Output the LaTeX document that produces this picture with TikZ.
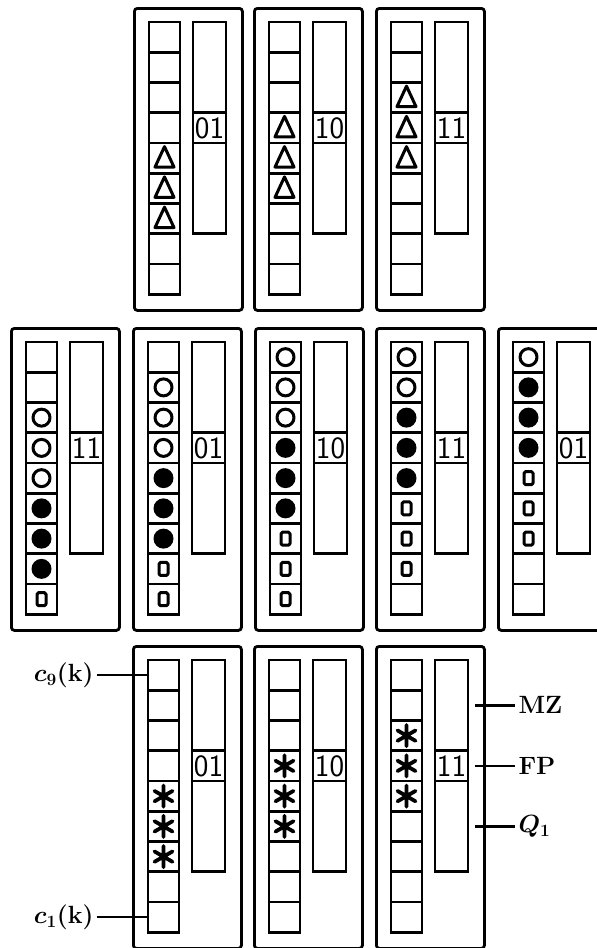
\documentclass[tikz,border=0pt]{standalone}
\usetikzlibrary{calc}
\tikzset{
  frame/.style={draw, line width=2.8pt, rounded corners=3pt, minimum width=108pt, minimum height=302pt, inner sep=0pt},
  cellbox/.style={draw, line width=2.7pt, minimum width=31pt, minimum height=30.25pt, inner sep=0pt},
  barbox/.style={draw, line width=2.7pt, minimum width=33pt, minimum height=90.75pt, inner sep=0pt},
  labcell/.style={draw, line width=2.7pt, minimum width=33pt, minimum height=30.25pt, inner sep=0pt, font=\fontsize{31}{31}\selectfont\sffamily},
  symline/.style={line width=3pt, line join=round},
  lab/.style={inner sep=3pt, font=\fontsize{25}{25}\selectfont\bfseries\boldmath},
  leader/.style={line width=2.5pt}
}
\newcommand\symz[1]{}
\newcommand\symt[1]{\draw[symline, shift={(#1.center)}] (0,-11.5) -- (-9.5,9) -- (9.5,9) -- cycle;}
\newcommand\symo[1]{\draw[symline, shift={(#1.center)}] (0,0) circle (8.5pt);}
\newcommand\symf[1]{\fill[shift={(#1.center)}] (0,0) circle (10pt);}
\newcommand\syms[1]{\draw[symline, shift={(#1.center)}, rounded corners=1.5pt] (-4.5,-6.5) rectangle (4.5,6.5);}
\newcommand\syma[1]{\draw[line width=3.8pt, line cap=round, shift={(#1.center)}] (0,-10.5) -- (0,10.5) (-9,-5.2) -- (9,5.2) (-9,5.2) -- (9,-5.2);}
\newcommand\mypanel[5]{%
  \node[frame, anchor=north west] (#1-f) at (#2,#3) {};
  \foreach \s [count=\i] in {#5} {
    \node[cellbox] (#1-c-\i) at ({#2+31.5},{#3+15+(\i-0.5)*30.25}) {};
    \csname sym\s\endcsname{#1-c-\i}
  }
  \node[barbox] (#1-u) at ({#2+76.5},{#3+15+45.375}) {};
  \node[labcell] (#1-l) at ({#2+76.5},{#3+15+105.875}) {#4};
  \node[barbox] (#1-d) at ({#2+76.5},{#3+15+121+45.375}) {};
}
\begin{document}
\begin{tikzpicture}[x=1pt,y=-1pt]
\useasboundingbox (0,0) rectangle (597,948);
\begin{scope}
\clip (0,0) rectangle (597,948);
% top row
\mypanel{T1}{133}{7}{01}{z,z,z,z,t,t,t,z,z}
\mypanel{T2}{253}{7}{10}{z,z,z,t,t,t,z,z,z}
\mypanel{T3}{375}{7}{11}{z,z,t,t,t,z,z,z,z}
% middle row
\mypanel{M1}{10}{327}{11}{z,z,o,o,o,f,f,f,s}
\mypanel{M2}{132}{327}{01}{z,o,o,o,f,f,f,s,s}
\mypanel{M3}{254}{327}{10}{o,o,o,f,f,f,s,s,s}
\mypanel{M4}{375}{327}{11}{o,o,f,f,f,s,s,s,z}
\mypanel{M5}{497}{327}{01}{o,f,f,f,s,s,s,z,z}
% bottom row
\mypanel{B1}{132}{645}{01}{z,z,z,z,a,a,a,z,z}
\mypanel{B2}{253}{645}{10}{z,z,z,a,a,a,z,z,z}
\mypanel{B3}{375}{645}{11}{z,z,a,a,a,z,z,z,z}
\end{scope}
% labels
\node[lab, anchor=east] (c9) at ([xshift=-50pt]B1-c-1.west) {$c_9(\mathbf{k})$};
\node[lab, anchor=east] (c1) at ([xshift=-50pt]B1-c-9.west) {$c_1(\mathbf{k})$};
\draw[leader] (c9) -- (B1-c-1);
\draw[leader] (c1) -- (B1-c-9);
\coordinate (mzs) at ([xshift=6pt]B3-u.east);
\coordinate (fps) at ([xshift=6pt]B3-l.east);
\coordinate (q1s) at ([xshift=6pt]B3-d.east);
\node[lab, anchor=west] (mz) at ([xshift=46pt]B3-u.east) {MZ};
\node[lab, anchor=west] (fp) at ([xshift=46pt]B3-l.east) {FP};
\node[lab, anchor=west] (q1) at ([xshift=46pt]B3-d.east) {$Q_1$};
\draw[leader] (mzs) -- (mz);
\draw[leader] (fps) -- (fp);
\draw[leader] (q1s) -- (q1);
\end{tikzpicture}
\end{document}
